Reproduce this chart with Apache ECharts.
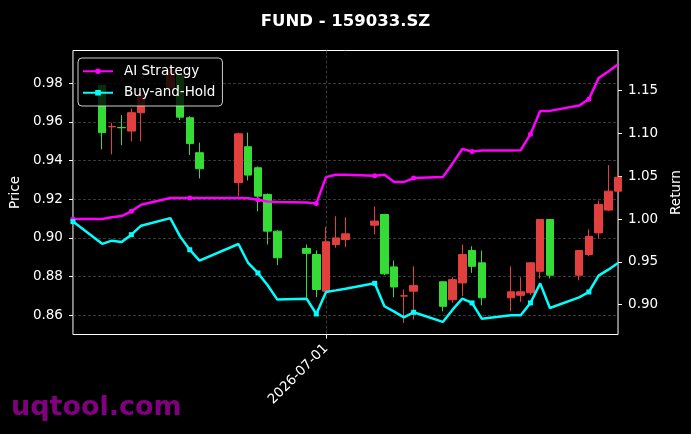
<!DOCTYPE html>
<html>
<head>
<meta charset="utf-8">
<script src="https://cdn.jsdelivr.net/npm/echarts@6/dist/echarts.min.js"></script>
<style>
  html, body { margin: 0; padding: 0; background: #000; }
  #container { width: 691px; height: 434px; }
</style>
</head>
<body>
<div id="container"></div>
<script>
// trading days (line series start one day before the candles)
var dates = ['2026-06-05', '2026-06-08', '2026-06-09', '2026-06-10', '2026-06-11', '2026-06-12',
    '2026-06-15', '2026-06-16', '2026-06-17', '2026-06-18', '2026-06-22', '2026-06-23',
    '2026-06-24', '2026-06-25', '2026-06-26', '2026-06-29', '2026-06-30', '2026-07-01',
    '2026-07-02', '2026-07-03', '2026-07-06', '2026-07-07', '2026-07-08', '2026-07-09',
    '2026-07-10', '2026-07-13', '2026-07-14', '2026-07-15', '2026-07-16', '2026-07-17',
    '2026-07-20', '2026-07-21', '2026-07-22', '2026-07-23', '2026-07-24', '2026-07-27',
    '2026-07-28', '2026-07-29', '2026-07-30', '2026-07-31'];

// candles from 2026-06-08
var opens = [0.9790, 0.9575, 0.9572, 0.9553, 0.9648, 0.9778, 0.9847, 0.9622, 0.9441, 0.9286,
    0.9472, 0.9363, 0.9225, 0.9035, 0.8945, 0.8914, 0.8724, 0.8966, 0.8992, 0.9066,
    0.9121, 0.8850, 0.8699, 0.8724, 0.8773, 0.8680, 0.8767, 0.8935, 0.8871, 0.8690,
    0.8703, 0.8716, 0.8827, 0.9095, 0.8807, 0.8914, 0.9026, 0.9144, 0.9242];
var closes = [0.9545, 0.9577, 0.9570, 0.9648, 0.9741, 0.9864, 0.9625, 0.9488, 0.9358, 0.9539,
    0.9325, 0.9216, 0.9035, 0.8897, 0.8920, 0.8733, 0.8980, 0.9000, 0.9021, 0.9087,
    0.8814, 0.8746, 0.8700, 0.8753, 0.8646, 0.8784, 0.8914, 0.8853, 0.8690, 0.8721,
    0.8721, 0.8871, 0.9095, 0.8807, 0.8935, 0.9008, 0.9173, 0.9242, 0.9314];
var lows = [0.9458, 0.9432, 0.9480, 0.9500, 0.9500, 0.9770, 0.9610, 0.9429, 0.9308, 0.9216,
    0.9297, 0.9138, 0.8966, 0.8859, 0.8690, 0.8693, 0.8720, 0.8949, 0.8952, 0.9018,
    0.8807, 0.8693, 0.8560, 0.8577, 0.8620, 0.8664, 0.8698, 0.8819, 0.8651, 0.8620,
    0.8669, 0.8705, 0.8790, 0.8790, 0.8780, 0.8905, 0.8997, 0.9138, 0.9230];
var highs = [0.9795, 0.9596, 0.9636, 0.9670, 0.9755, 0.9900, 0.9880, 0.9630, 0.9493, 0.9545,
    0.9545, 0.9370, 0.9230, 0.9040, 0.8966, 0.8935, 0.9056, 0.9112, 0.9107, 0.9163,
    0.9125, 0.8883, 0.8733, 0.8853, 0.8775, 0.8796, 0.8966, 0.8957, 0.8935, 0.8853,
    0.8796, 0.8875, 0.9095, 0.9095, 0.8935, 0.9044, 0.9194, 0.9377, 0.9330];

var aiReturn = [1.000, 1.000, 1.002, 1.0035, 1.009, 1.0167, 1.0245, 1.0245, 1.0245, 1.0245,
    1.0245, 1.0242, 1.0225, 1.0205, 1.0198, 1.0194, 1.0182, 1.049, 1.0517, 1.0517,
    1.0505, 1.0517, 1.0432, 1.0432, 1.0479, 1.049, 1.065, 1.0818, 1.079, 1.080,
    1.080, 1.0805, 1.0992, 1.1264, 1.1264, 1.1326, 1.140, 1.1647, 1.1724, 1.181];
var bhReturn = [0.997, 0.971, 0.9747, 0.9731, 0.9817, 0.9922, 1.001, 0.9797, 0.9641, 0.9513,
    0.9708, 0.9486, 0.9369, 0.9225, 0.9058, 0.9069, 0.889, 0.9147, 0.9166, 0.9186,
    0.9248, 0.898, 0.8917, 0.885, 0.891, 0.8797, 0.894, 0.9069, 0.9019, 0.8835,
    0.8874, 0.8874, 0.9019, 0.9248, 0.896, 0.9084, 0.9147, 0.9338, 0.9408, 0.9486];

var xTickDates = ['2026-07-01'];
var priceTicks = [0.86, 0.88, 0.90, 0.92, 0.94, 0.96, 0.98];
var returnTicks = [0.90, 0.95, 1.00, 1.05, 1.10, 1.15];

function ts(s) {
    var p = s.split('-');
    return new Date(+p[0], +p[1] - 1, +p[2]).getTime();
}
function pad(n) { return n < 10 ? '0' + n : '' + n; }

var candleData = [];
for (var i = 0; i < opens.length; i++) {
    candleData.push([ts(dates[i + 1]), opens[i], closes[i], lows[i], highs[i]]);
}
var aiData = dates.map(function (d, i) { return [ts(d), aiReturn[i]]; });
var bhData = dates.map(function (d, i) { return [ts(d), bhReturn[i]]; });

var font = 'DejaVu Sans';
// marker on every 4th point, like markevery=4
var markEvery = function (val, params) {
    return params.dataIndex % 4 === 0 ? 5 : 0;
};
var gridLine = { color: '#484848', type: [3, 2], width: 0.8 };

var chart = echarts.init(document.getElementById('container'));
chart.setOption({
    backgroundColor: '#000',
    animation: false,
    title: {
        text: 'FUND - 159033.SZ',
        left: 'center',
        top: 8,
        textStyle: { color: '#fff', fontFamily: font, fontWeight: 'bold', fontSize: 16.5 }
    },
    legend: {
        data: ['AI Strategy', 'Buy-and-Hold'],
        orient: 'vertical',
        left: 78,
        top: 58,
        padding: [6.25, 7, 6.25, 4],
        itemWidth: 30,
        itemHeight: 7,
        itemGap: 7.5,
        backgroundColor: 'rgba(0,0,0,0.8)',
        borderColor: '#cccccc',
        borderWidth: 1,
        borderRadius: 4,
        textStyle: { color: '#fff', fontFamily: font, fontSize: 13.5, padding: [0, 0, 0, 6] }
    },
    grid: {
        left: 70.5,
        right: 69.5,
        top: 50.5,
        bottom: 99.5,
        show: true,
        borderColor: '#fff',
        borderWidth: 1
    },
    xAxis: {
        type: 'value',
        min: ts(dates[0]),
        max: ts(dates[dates.length - 1]),
        axisLine: { show: false },
        axisTick: {
            customValues: xTickDates.map(ts),
            length: 4,
            lineStyle: { color: '#fff' }
        },
        axisLabel: {
            customValues: xTickDates.map(ts),
            rotate: 45,
            color: '#fff',
            fontFamily: font,
            fontSize: 13.5,
            margin: 12,
            formatter: function (v) {
                var d = new Date(v);
                return d.getFullYear() + '-' + pad(d.getMonth() + 1) + '-' + pad(d.getDate());
            }
        },
        splitLine: { show: true, lineStyle: gridLine }
    },
    yAxis: [{
        type: 'value',
        min: 0.850,
        max: 0.997,
        name: 'Price',
        nameLocation: 'middle',
        nameRotate: 90,
        nameGap: 48,
        nameTextStyle: { color: '#fff', fontFamily: font, fontSize: 13.5 },
        axisLine: { show: false },
        axisTick: {
            show: true,
            customValues: priceTicks,
            length: 4,
            lineStyle: { color: '#fff' }
        },
        axisLabel: {
            customValues: priceTicks,
            color: '#fff',
            fontFamily: font,
            fontSize: 13.5,
            margin: 10,
            formatter: function (v) { return v.toFixed(2); }
        },
        splitLine: { show: true, lineStyle: gridLine }
    }, {
        type: 'value',
        min: 0.865,
        max: 1.197,
        name: 'Return',
        nameLocation: 'middle',
        nameRotate: 90,
        nameGap: 46,
        nameTextStyle: { color: '#fff', fontFamily: font, fontSize: 13.5 },
        axisLine: { show: false },
        axisTick: {
            show: true,
            customValues: returnTicks,
            length: 4,
            lineStyle: { color: '#fff' }
        },
        axisLabel: {
            customValues: returnTicks,
            color: '#fff',
            fontFamily: font,
            fontSize: 13.5,
            margin: 10,
            formatter: function (v) { return v.toFixed(2); }
        },
        splitLine: { show: false }
    }],
    series: [{
        name: 'Price',
        type: 'candlestick',
        yAxisIndex: 0,
        barWidth: 8,
        data: candleData,
        itemStyle: {
            color: '#e2403e',
            color0: '#36dc36',
            borderColor: '#e2403e',
            borderColor0: '#36dc36',
            borderWidth: 1
        }
    }, {
        name: 'AI Strategy',
        type: 'line',
        yAxisIndex: 1,
        data: aiData,
        symbol: 'circle',
        symbolSize: markEvery,
        lineStyle: { color: '#ff00ff', width: 2.5 },
        itemStyle: { color: '#ff00ff' },
        z: 5
    }, {
        name: 'Buy-and-Hold',
        type: 'line',
        yAxisIndex: 1,
        data: bhData,
        symbol: 'rect',
        symbolSize: markEvery,
        lineStyle: { color: '#00ffff', width: 2.5 },
        itemStyle: { color: '#00ffff' },
        z: 5
    }],
    graphic: [{
        type: 'text',
        left: 11,
        top: 394,
        style: {
            text: 'uqtool.com',
            fill: '#800080',
            font: 'bold 27px "DejaVu Sans"'
        }
    }]
});
</script>
</body>
</html>
